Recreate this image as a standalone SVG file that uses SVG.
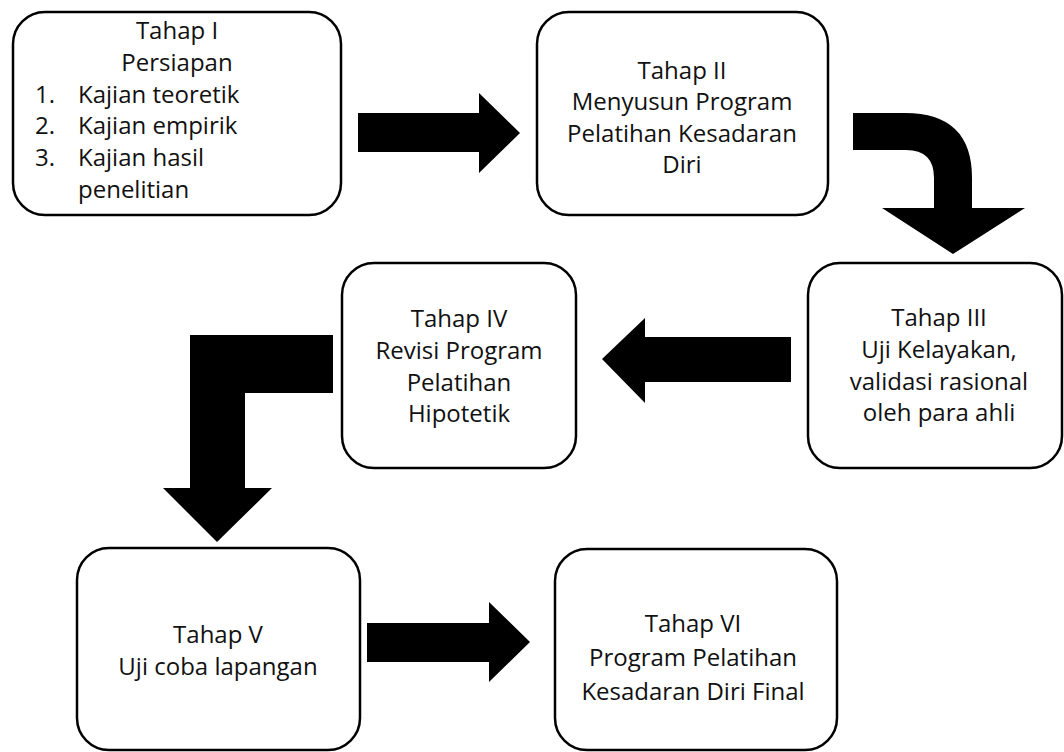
<svg xmlns="http://www.w3.org/2000/svg" width="1064" height="752" viewBox="0 0 1064 752">
  <style>
    .box { fill: #ffffff; stroke: #000000; stroke-width: 2.5; }
    .lbl { font-family: "Open Sans", "Noto Sans", "Liberation Sans", sans-serif; font-size: 24px; fill: #111111; }
    .c { text-anchor: middle; }
    .arrow { fill: #000000; stroke: none; }
  </style>
  <rect width="1064" height="752" fill="#ffffff"/>

  <!-- connectors: block arrows between stages -->
  <g id="connectors">
    <!-- I -> II -->
    <polygon class="arrow" points="358,113 479,113 479,93 520,133 479,173 479,152 358,152"/>
    <!-- II -> III (bent arrow) -->
    <path class="arrow" d="M853,113 L905,113 Q972,113 972,178 L972,208 L1025,208 L953,254 L882,208 L934,208 L934,178 Q934,150 906,150 L853,150 Z"/>
    <!-- III -> IV -->
    <polygon class="arrow" points="791,337 645,337 645,318 602,359 645,403 645,382 791,382"/>
    <!-- IV -> V (L arrow) -->
    <polygon class="arrow" points="333,335 190,335 190,488 163,488 217,542 272,488 245,488 245,393 333,393"/>
    <!-- V -> VI -->
    <polygon class="arrow" points="367,623 489,623 489,602 530,642 489,682 489,662 367,662"/>
  </g>

  <g id="node-tahap1">
    <rect class="box" x="13" y="12" width="328" height="203" rx="32"/>
    <text class="lbl c" x="177" y="39">Tahap I</text>
    <text class="lbl c" x="177" y="71">Persiapan</text>
    <text class="lbl" x="35" y="103">1.</text>
    <text class="lbl" x="78" y="103">Kajian teoretik</text>
    <text class="lbl" x="35" y="134">2.</text>
    <text class="lbl" x="78" y="134">Kajian empirik</text>
    <text class="lbl" x="35" y="166">3.</text>
    <text class="lbl" x="78" y="166">Kajian hasil</text>
    <text class="lbl" x="78" y="198">penelitian</text>
  </g>

  <g id="node-tahap2">
    <rect class="box" x="537" y="12" width="291" height="203" rx="32"/>
    <text class="lbl c" x="682" y="79">Tahap II</text>
    <text class="lbl c" x="682" y="110">Menyusun Program</text>
    <text class="lbl c" x="682" y="142">Pelatihan Kesadaran</text>
    <text class="lbl c" x="682" y="173">Diri</text>
  </g>

  <g id="node-tahap3">
    <rect class="box" x="808" y="263" width="254" height="205" rx="32"/>
    <text class="lbl c" x="939" y="326">Tahap III</text>
    <text class="lbl c" x="939" y="358">Uji Kelayakan,</text>
    <text class="lbl c" x="939" y="390">validasi rasional</text>
    <text class="lbl c" x="939" y="421">oleh para ahli</text>
  </g>

  <g id="node-tahap4">
    <rect class="box" x="342" y="263" width="234" height="205" rx="32"/>
    <text class="lbl c" x="459" y="327">Tahap IV</text>
    <text class="lbl c" x="459" y="359">Revisi Program</text>
    <text class="lbl c" x="459" y="391">Pelatihan</text>
    <text class="lbl c" x="459" y="422">Hipotetik</text>
  </g>

  <g id="node-tahap5">
    <rect class="box" x="77" y="548" width="283" height="202" rx="32"/>
    <text class="lbl c" x="218" y="643">Tahap V</text>
    <text class="lbl c" x="218" y="675">Uji coba lapangan</text>
  </g>

  <g id="node-tahap6">
    <rect class="box" x="555" y="549" width="282" height="201" rx="32"/>
    <text class="lbl c" x="693" y="632">Tahap VI</text>
    <text class="lbl c" x="693" y="666">Program Pelatihan</text>
    <text class="lbl c" x="693" y="700">Kesadaran Diri Final</text>
  </g>
</svg>
